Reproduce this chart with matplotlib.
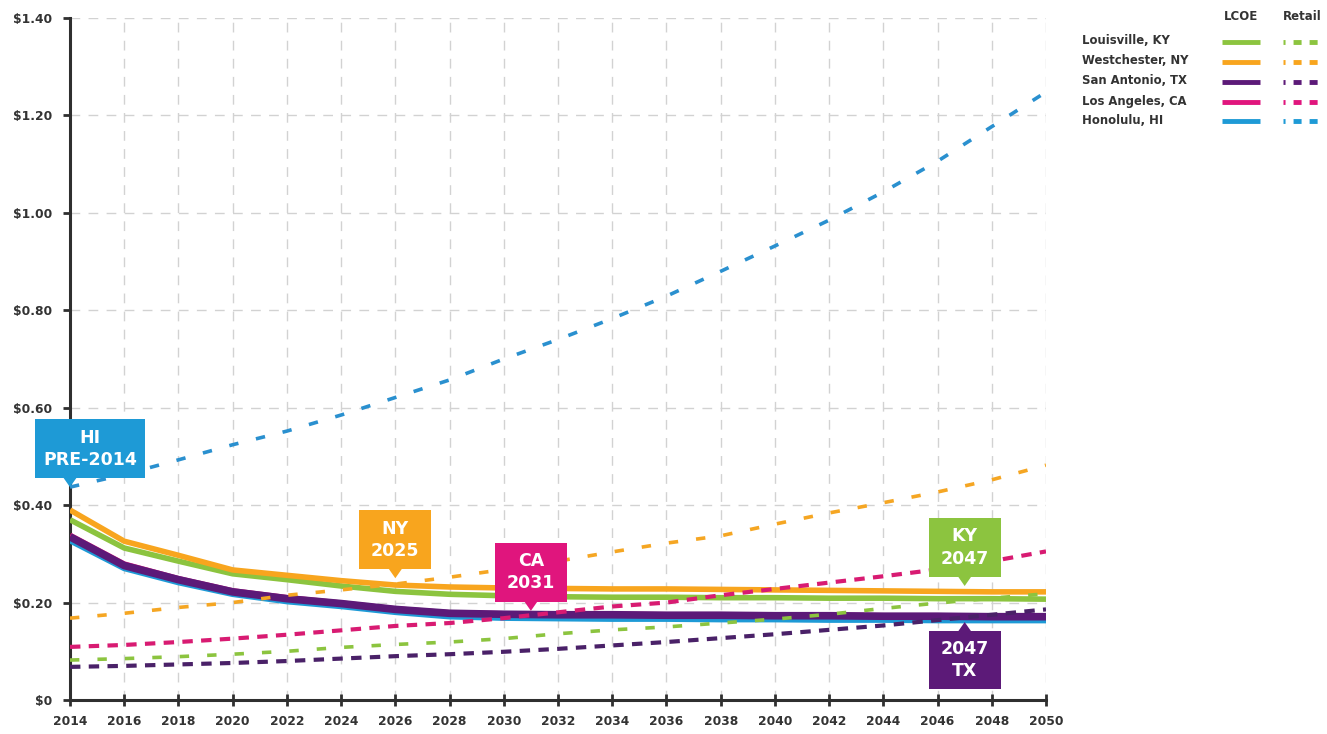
import matplotlib
matplotlib.use("Agg")
import matplotlib.pyplot as plt
import matplotlib.transforms as mtransforms
from matplotlib.patches import Polygon, Rectangle
from matplotlib.lines import Line2D

plt.rcParams['font.family'] = ['DejaVu Sans']

# ---------------- data ----------------
years = [2014, 2016, 2018, 2020, 2022, 2024, 2026, 2028, 2030, 2032,
         2034, 2036, 2038, 2040, 2042, 2044, 2046, 2048, 2050]

cities = ["Louisville, KY", "Westchester, NY", "San Antonio, TX",
          "Los Angeles, CA", "Honolulu, HI"]

lcoe_ky = [0.370, 0.312, 0.285, 0.259, 0.247, 0.234, 0.223, 0.217, 0.214, 0.212,
           0.211, 0.211, 0.210, 0.210, 0.209, 0.209, 0.208, 0.208, 0.207]
lcoe_ny = [0.390, 0.326, 0.297, 0.267, 0.256, 0.245, 0.236, 0.232, 0.230, 0.229,
           0.228, 0.228, 0.227, 0.226, 0.225, 0.224, 0.223, 0.222, 0.222]
lcoe_tx = [0.335, 0.276, 0.247, 0.222, 0.208, 0.198, 0.186, 0.178, 0.176, 0.175,
           0.175, 0.174, 0.174, 0.173, 0.173, 0.172, 0.172, 0.171, 0.171]
lcoe_ca = [0.338, 0.279, 0.249, 0.224, 0.210, 0.199, 0.187, 0.179, 0.177, 0.176,
           0.176, 0.175, 0.175, 0.174, 0.174, 0.173, 0.173, 0.172, 0.172]
lcoe_hi = [0.327, 0.270, 0.241, 0.217, 0.202, 0.192, 0.180, 0.171, 0.168, 0.167,
           0.166, 0.166, 0.165, 0.165, 0.164, 0.164, 0.163, 0.163, 0.163]

retail_ky = [0.082, 0.085, 0.089, 0.094, 0.100, 0.108, 0.114, 0.119, 0.126, 0.136,
             0.144, 0.150, 0.158, 0.166, 0.176, 0.188, 0.199, 0.209, 0.218]
retail_ny = [0.168, 0.178, 0.190, 0.200, 0.215, 0.226, 0.238, 0.252, 0.268, 0.285,
             0.304, 0.322, 0.337, 0.361, 0.384, 0.405, 0.427, 0.452, 0.482]
retail_tx = [0.068, 0.070, 0.073, 0.076, 0.080, 0.085, 0.090, 0.094, 0.099, 0.105,
             0.112, 0.119, 0.127, 0.135, 0.144, 0.153, 0.164, 0.175, 0.186]
retail_ca = [0.109, 0.113, 0.119, 0.126, 0.134, 0.143, 0.152, 0.158, 0.168, 0.180,
             0.192, 0.200, 0.215, 0.228, 0.241, 0.254, 0.268, 0.285, 0.305]
retail_hi = [0.437, 0.463, 0.493, 0.524, 0.552, 0.585, 0.621, 0.657, 0.700, 0.740,
             0.783, 0.829, 0.880, 0.932, 0.985, 1.043, 1.106, 1.177, 1.248]

y_ticks = [0, 0.2, 0.4, 0.6, 0.8, 1.0, 1.2, 1.4]
y_tick_labels = ["$0", "$0.20", "$0.40", "$0.60", "$0.80", "$1.00", "$1.20", "$1.40"]
x_ticks = years
x_tick_labels = [str(y) for y in years]

# callouts: (text, year, value, city index, points down?)
callouts = [
    ("HI\nPRE-2014", 2014, 0.437, 4, True),
    ("NY\n2025", 2026, 0.250, 1, True),
    ("CA\n2031", 2031, 0.183, 3, True),
    ("KY\n2047", 2047, 0.234, 0, True),
    ("2047\nTX", 2047, 0.160, 2, False),
]

# ---------------- styles ----------------
colors = ["#8cc43f", "#f8a51e", "#5c1a78", "#e0157d", "#1e9ad6"]
retail_colors = ["#8cc43f", "#f5a623", "#4a2168", "#d81b72", "#2a90cf"]
lcoe_series = [lcoe_ky, lcoe_ny, lcoe_tx, lcoe_ca, lcoe_hi]
retail_series = [retail_ky, retail_ny, retail_tx, retail_ca, retail_hi]

W, H, DPI = 1327, 734, 100
fig = plt.figure(figsize=(W / DPI, H / DPI), dpi=DPI)
ax = fig.add_axes([70 / W, 1 - 700 / H, (1046 - 70) / W, (700 - 18) / H])

ax.set_xlim(2014, 2050)
ax.set_ylim(0, 1.4)

# grid
for xv in x_ticks[1:]:
    ax.axvline(xv, color="#d2d2d2", lw=1.0, dashes=(7, 6), zorder=0)
for yv in y_ticks[1:]:
    ax.axhline(yv, color="#d2d2d2", lw=1.0, dashes=(7, 6), zorder=0)

# LCOE solid lines (draw order so TX sits on top)
lcoe_lw = [4.0, 4.0, 5.5, 4.0, 4.0]
for k, i in enumerate([3, 4, 0, 1, 2]):
    ax.plot(years, lcoe_series[i], color=colors[i], lw=lcoe_lw[i],
            solid_capstyle="butt", solid_joinstyle="round", zorder=3 + k * 0.1)

# Retail dashed lines
retail_lw = [2.6, 2.6, 3.0, 3.0, 2.6]
retail_dash = [(2.6, 5.0), (2.6, 5.0), (2.5, 2.0), (2.5, 2.0), (2.6, 5.0)]
for i in range(5):
    ax.plot(years, retail_series[i], color=retail_colors[i], lw=retail_lw[i],
            dashes=retail_dash[i], dash_capstyle="butt", zorder=5)

# axes styling
for s in ["top", "right"]:
    ax.spines[s].set_visible(False)
for s in ["left", "bottom"]:
    ax.spines[s].set_color("#2f2f2f")
    ax.spines[s].set_linewidth(2.2)
ax.set_yticks(y_ticks)
ax.set_yticklabels(y_tick_labels)
ax.set_xticks(x_ticks)
ax.set_xticklabels(x_tick_labels)
ax.tick_params(axis="both", colors="#2f2f2f", width=2.0, length=5,
               labelsize=8.8)
ax.tick_params(axis="y", pad=8)
ax.tick_params(axis="x", direction="inout", length=9, pad=6)
for lab in ax.get_xticklabels() + ax.get_yticklabels():
    lab.set_fontweight("bold")
    lab.set_color("#333333")

# ---------------- callouts ----------------
fig.canvas.draw()
box_w = {"HI\nPRE-2014": (-35, 75)}
for text, xv, yv, ci, down in callouts:
    tx, ty = ax.transData.transform((xv, yv))
    base = mtransforms.Affine2D().translate(tx, ty)
    x0, x1 = box_w.get(text, (-36, 36))
    if down:
        y0, y1 = 9, 68
        tri = [(-7, y0 + 1), (7, y0 + 1), (0, 0)]
    else:
        y0, y1 = -67, -9
        tri = [(-7, y1 - 1), (7, y1 - 1), (0, 0)]
    cy = (y0 + y1) / 2
    rect = Rectangle((x0, y0), x1 - x0, y1 - y0, transform=base,
                     facecolor=colors[ci], edgecolor="none", zorder=10,
                     clip_on=False)
    poly = Polygon(tri, closed=True, transform=base, facecolor=colors[ci],
                   edgecolor="none", zorder=10, clip_on=False)
    ax.add_artist(rect)
    ax.add_artist(poly)
    fig.text((tx + (x0 + x1) / 2) / W, (ty + cy) / H, text, color="white",
             fontsize=12.5, fontweight="bold", ha="center", va="center",
             linespacing=1.3, zorder=11)

# ---------------- legend (manual) ----------------
def fx(p):
    return p / W

def fy(p):
    return 1 - p / H

fig.text(fx(1241), fy(16), "LCOE", ha="center", va="center", fontsize=8.5,
         fontweight="bold", color="#333333")
fig.text(fx(1302), fy(16), "Retail", ha="center", va="center", fontsize=8.5,
         fontweight="bold", color="#333333")
row_y = [41, 61, 81, 101, 120]
for i, name in enumerate(cities):
    fig.text(fx(1082), fy(row_y[i]), name, ha="left", va="center",
             fontsize=8.4, fontweight="bold", color="#333333")
    fig.add_artist(Line2D([fx(1222), fx(1260)], [fy(row_y[i] + 1)] * 2,
                          color=colors[i], lw=3.5, solid_capstyle="butt"))
    fig.add_artist(Line2D([fx(1283), fx(1321)], [fy(row_y[i] + 1)] * 2,
                          color=colors[i], lw=3.5,
                          linestyle=(1.23, (1.65, 1.65)),
                          dash_capstyle="butt"))

fig.savefig("out.png", dpi=DPI)
